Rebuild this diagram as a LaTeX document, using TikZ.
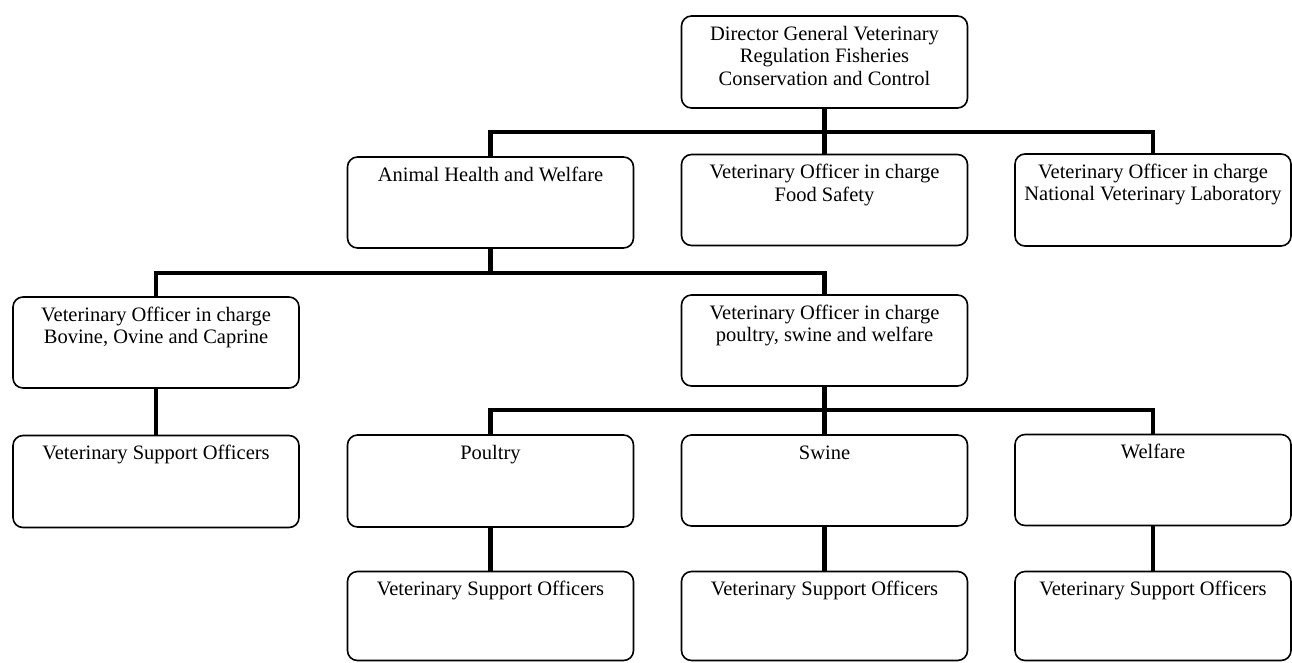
\documentclass[tikz,border=0pt]{standalone}
\usepackage{fontspec}
\setmainfont{Liberation Serif}
% box contents: text set at the top of a fixed-size frame
\newcommand\unittext[3][286pt]{\parbox[c][#2][t]{#1}{\centering\fontsize{20.5}{22.5}\selectfont\rule{0pt}{24pt}#3}}
\begin{document}
\begin{tikzpicture}[x=1pt,y=-1pt,
  unit/.style={draw, line width=1.6pt, rounded corners=10pt, inner sep=0pt},
  link/.style={line width=4.5pt, line join=miter, line cap=butt}]
\useasboundingbox (0,0) rectangle (1292,662);

% level 0
\node[unit] (top) at (824.5,62) {\unittext{92pt}{Director General Veterinary\\Regulation Fisheries\\Conservation and Control}};

% level 1
\node[unit] (ahw) at (490.5,202.5) {\unittext{91pt}{Animal Health and Welfare}};
\node[unit] (fs)  at (824.5,200)   {\unittext{91pt}{Veterinary Officer in charge\\Food Safety}};
\node[unit] (nvl) at (1153,200)    {\unittext[276pt]{92pt}{Veterinary Officer in charge\\National Veterinary Laboratory}};

% level 2
\node[unit] (bov) at (156,342.5)   {\unittext{91pt}{Veterinary Officer in charge\\Bovine, Ovine and Caprine}};
\node[unit] (psw) at (824.5,340.5) {\unittext{91pt}{Veterinary Officer in charge\\poultry, swine and welfare}};

% level 3
\node[unit] (vso1) at (156,481.5)   {\unittext{92pt}{Veterinary Support Officers}};
\node[unit] (poul) at (490.5,481)   {\unittext{92pt}{Poultry}};
\node[unit] (swi)  at (824.5,480.5) {\unittext{91pt}{Swine}};
\node[unit] (wel)  at (1153,480)    {\unittext[276pt]{91pt}{Welfare}};

% level 4
\node[unit] (vso2) at (490.5,616) {\unittext{89pt}{Veterinary Support Officers}};
\node[unit] (vso3) at (824.5,616) {\unittext{89pt}{Veterinary Support Officers}};
\node[unit] (vso4) at (1153,616)  {\unittext[276pt]{89pt}{Veterinary Support Officers}};

% bus lines
\coordinate (b1) at (0,132);
\coordinate (b2) at (0,273);
\coordinate (b3) at (0,410);

\draw[link] (top.south) -- (fs.north);
\draw[link] (ahw.north) |- (nvl.north |- b1) -- (nvl.north);

\draw[link] (ahw.south) -- (ahw.south |- b2);
\draw[link] (bov.north) |- (psw.north |- b2) -- (psw.north);

\draw[link] (psw.south) -- (swi.north);
\draw[link] (poul.north) |- (wel.north |- b3) -- (wel.north);

\draw[link] (bov.south)  -- (vso1.north);
\draw[link] (poul.south) -- (vso2.north);
\draw[link] (swi.south)  -- (vso3.north);
\draw[link] (wel.south)  -- (vso4.north);
\end{tikzpicture}
\end{document}
